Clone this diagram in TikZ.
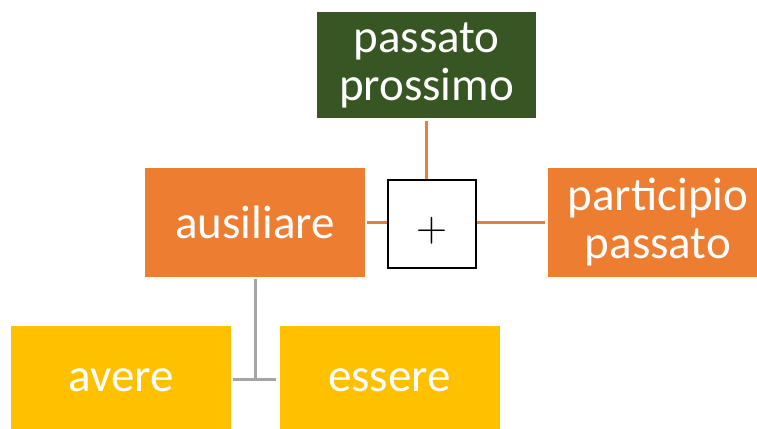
\documentclass[tikz,border=0pt]{standalone}
\usepackage{fontspec}
\setmainfont{Carlito}
\newfontfamily\lmfont{Latin Modern Roman}
\definecolor{dgreen}{HTML}{375623}
\definecolor{orng}{HTML}{ED7D31}
\definecolor{yell}{HTML}{FFC000}
\definecolor{gry}{HTML}{A5A5A5}
\tikzset{
  box/.style={inner sep=0pt, text=white, align=center, font=\fontsize{47}{48}\selectfont},
  greenbox/.style={box, fill=dgreen, minimum width=219pt, minimum height=106pt},
  orangebox/.style={box, fill=orng, minimum width=220pt, minimum height=109pt},
  yellowbox/.style={box, fill=yell, minimum width=220pt, minimum height=108pt},
  plusbox/.style={draw=black, line width=2pt, fill=white, minimum width=88pt, minimum height=88pt, inner sep=0pt},
  oline/.style={draw=orng, line width=2.5pt},
  gline/.style={draw=gry, line width=3pt}
}
\begin{document}
\begin{tikzpicture}[x=1pt,y=1pt]
\path[use as bounding box] (0,0) rectangle (757,428);
\clip (0,0) rectangle (757,428);
\node[greenbox] (pp) at (426.5,363) {passato\\prossimo};
\node[orangebox] (aus) at (255,205.5) {ausiliare};
\node[plusbox] (plus) at (431.5,203.5) {};
\node[inner sep=0pt, font=\lmfont\fontsize{43}{43}\selectfont] (plussign) at (432,197) {+};
\node[orangebox] (part) at (658,205.5) {participio\\passato};
\node[yellowbox] (avere) at (121,48) {avere};
\node[yellowbox] (essere) at (389.5,48) {essere};
\coordinate (j) at (aus.south |- avere.east);
\draw[oline, shorten <=3pt] (pp.south) -- (pp.south |- plus.north);
\draw[oline, shorten <=2pt] (aus.east) -- (aus.east -| plus.west);
\draw[oline, shorten >=3pt] (part.west -| plus.east) -- (part.west);
\draw[gline, shorten <=2pt] (aus.south) -- (j);
\draw[gline, shorten <=2pt, shorten >=3pt] (avere.east) -- (essere.west);
\end{tikzpicture}
\end{document}
